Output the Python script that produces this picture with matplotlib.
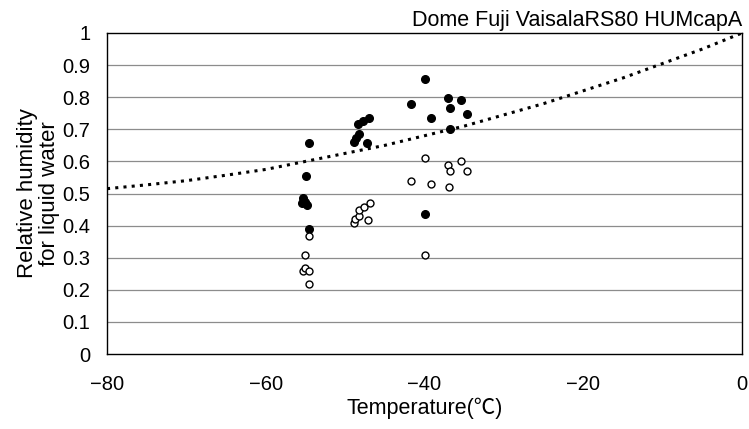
import numpy as np
import matplotlib.pyplot as plt

plt.rcParams['font.family'] = ['Liberation Sans', 'Noto Sans CJK JP', 'DejaVu Sans']

# filled circles
t_filled = [-54.5, -54.9, -55.3, -55.1, -55.4, -54.8, -54.5,
            -48.4, -47.7, -47.0, -48.2, -48.6, -48.9, -47.2,
            -40.0, -41.7, -37.1, -35.4, -36.8, -39.2, -34.7, -36.8, -39.9]
rh_filled = [0.658, 0.555, 0.485, 0.475, 0.47, 0.465, 0.389,
             0.717, 0.725, 0.734, 0.685, 0.674, 0.661, 0.658,
             0.857, 0.778, 0.796, 0.792, 0.765, 0.736, 0.747, 0.700, 0.435]

# open circles
t_open = [-54.5, -55.0, -55.3, -55.0, -54.6, -54.5,
          -48.9, -48.7, -48.2, -48.3, -47.6, -46.9, -47.1,
          -40.0, -37.1, -35.4, -36.8, -34.7, -41.7, -39.2, -36.9, -39.9]
rh_open = [0.369, 0.307, 0.259, 0.267, 0.259, 0.218,
           0.409, 0.42, 0.429, 0.449, 0.459, 0.469, 0.419,
           0.610, 0.590, 0.600, 0.569, 0.569, 0.540, 0.531, 0.520, 0.308]

# dotted curve (ice / water saturation)
t_curve = [-80, -75, -70, -65, -60, -55, -50, -45, -40, -35, -30, -25, -20, -15, -10, -5, 0]
rh_curve = [0.515, 0.527, 0.54, 0.557, 0.575, 0.60, 0.625, 0.65, 0.68, 0.71, 0.745,
            0.78, 0.82, 0.86, 0.905, 0.95, 1.0]

fig = plt.figure(figsize=(7.49, 4.29), dpi=100)
ax = fig.add_axes([0.1429, 0.1748, 0.8478, 0.7483])

for y in np.arange(0.1, 1.0, 0.1):
    ax.axhline(y, color='#8c8c8c', lw=0.9, zorder=0)

ax.plot(t_curve, rh_curve, color='black', lw=2.2, linestyle=(0, (1, 1.7)),
        dash_capstyle='butt', zorder=2)
ax.plot(t_filled, rh_filled, 'o', color='black', ms=5.5, zorder=3)
ax.plot(t_open, rh_open, 'o', mfc='white', mec='black', mew=1.0, ms=5.0, zorder=3)

ax.set_xlim(-80, 0)
ax.set_ylim(0, 1)
ax.set_xticks([-80, -60, -40, -20, 0])
ax.set_xticklabels(['\u221280', '\u221260', '\u221240', '\u221220', '0'])
ax.set_yticks(np.arange(0, 1.01, 0.1))
ax.set_yticklabels(['0', '0.1', '0.2', '0.3', '0.4', '0.5', '0.6', '0.7', '0.8', '0.9', '1'])
ax.tick_params(length=0, labelsize=14.5, pad=12)
ax.tick_params(axis='x', pad=15)
for s in ax.spines.values():
    s.set_linewidth(1.0)

ax.set_xlabel('Temperature(\u2103)', fontsize=15.5, labelpad=3)
ax.set_ylabel('Relative humidity\nfor liquid water', fontsize=16, labelpad=2,
              linespacing=1.05)
ax.set_title('Dome Fuji VaisalaRS80 HUMcapA', loc='right', fontsize=15.5, pad=5)

plt.savefig('out.png', dpi=100)
